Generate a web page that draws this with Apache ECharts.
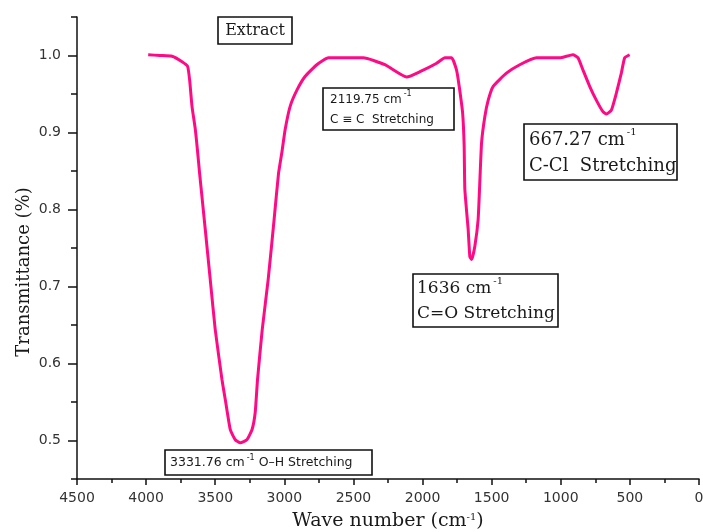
<!DOCTYPE html>
<html>
<head>
<meta charset="utf-8">
<script src="https://cdn.jsdelivr.net/npm/echarts@6/dist/echarts.min.js"></script>
<style>
html,body{margin:0;padding:0;background:#fff;}
#chart{width:703px;height:532px;}
</style>
</head>
<body>
<div id="chart"></div>
<script>
// Wavenumber (cm^-1) and transmittance
const wavenumber = [3985,3900,3812,3740,3700,3685,3668,3644,3627,3613,3572,3536,3500,3451,3427,3391,3355,3319,3271,3234,3211,3194,3160,3117,3074,3042,3018,2994,2958,2909,2849,2765,2681,2524,2428,2272,2115,2019,1898,1838,1790,1754,1735,1710,1699,1694,1670,1658,1645,1622,1598,1585,1573,1549,1525,1489,1393,1297,1176,1008,912,875,839,791,743,695,670,634,598,562,538,502];
const transmittance = [1.001,1.000,0.999,0.992,0.986,0.968,0.934,0.904,0.874,0.847,0.774,0.709,0.644,0.579,0.553,0.514,0.501,0.497,0.501,0.514,0.536,0.579,0.644,0.709,0.787,0.847,0.874,0.904,0.934,0.955,0.973,0.988,0.997,0.997,0.997,0.988,0.972,0.979,0.990,0.997,0.997,0.981,0.960,0.925,0.882,0.826,0.774,0.739,0.735,0.752,0.787,0.839,0.887,0.921,0.942,0.960,0.977,0.988,0.997,0.997,1.001,0.997,0.981,0.960,0.942,0.927,0.924,0.929,0.951,0.977,0.997,1.001];
const yLabelTicks = [0.5,0.6,0.7,0.8,0.9,1.0];
const yMinorTicks = [0.45,0.55,0.65,0.75,0.85,0.95,1.05];
const xMin = 0, xMax = 4500, xStep = 500;
const yMin = 0.45, yMax = 1.05;

const annotations = [
  {text: 'Extract'},
  {text: '2119.75 cm{s|-1}\nC ≡ C  Stretching'},
  {text: '667.27 cm{s|-1}\nC-Cl  Stretching'},
  {text: '1636 cm{s|-1}\nC=O Stretching'},
  {text: '3331.76 cm{s|-1} O–H Stretching'}
];

const data = wavenumber.map((w, i) => [w, transmittance[i]]);
const chart = echarts.init(document.getElementById('chart'), null, {renderer: 'canvas'});

function box(x, y, w, h, txt, tx, ty, size, family, lh, align, sup) {
  return {
    type: 'group',
    children: [
      {type: 'rect', shape: {x: x, y: y, width: w, height: h},
       style: {fill: '#fff', stroke: '#111', lineWidth: 1.6}, z: 10},
      {type: 'text', x: tx, y: ty, z: 11,
       style: {text: txt, fontSize: size, fontFamily: family, fill: '#1a1a1a',
               lineHeight: lh, align: align || 'left', verticalAlign: 'top',
               rich: {s: {fontSize: sup, fontFamily: family, verticalAlign: 'top', lineHeight: lh, padding:[0,0,0,2]}}}}
    ]
  };
}

const serif = '"DejaVu Serif", serif';
const sans = '"DejaVu Sans", sans-serif';

chart.setOption({
  animation: false,
  backgroundColor: '#fff',
  grid: {left: 77, right: 4, top: 17, bottom: 53, containLabel: false, outerBoundsMode: 'none'},
  xAxis: {
    type: 'value', min: xMin, max: xMax, interval: xStep, inverse: true,
    name: 'Wave number (cm{s|-1})', nameLocation: 'middle', nameGap: 33, nameMoveOverlap: false,
    nameTextStyle: {fontSize: 19, fontFamily: serif, color: '#1a1a1a',
      rich: {s: {fontSize: 10, fontFamily: serif, verticalAlign: 'top', color: '#1a1a1a'}}},
    axisLine: {show: true, onZero: false, lineStyle: {color: '#111', width: 1.5}},
    axisTick: {show: true, length: 6, lineStyle: {color: '#111', width: 1.5}},
    minorTick: {show: true, splitNumber: 2, length: 4, lineStyle: {color: '#111', width: 1.5}},
    splitLine: {show: false}, minorSplitLine: {show: false},
    axisLabel: {fontSize: 14, fontFamily: sans, color: '#333', margin: 12,
      formatter: v => String(v)}
  },
  yAxis: [{
    type: 'value', min: yMin, max: yMax, position: 'left',
    name: 'Transmittance (%)', nameLocation: 'middle', nameGap: 44, nameMoveOverlap: false,
    nameTextStyle: {fontSize: 18, fontFamily: serif, color: '#1a1a1a', padding: [0, 48, 0, 0]},
    axisLine: {show: true, onZero: false, lineStyle: {color: '#111', width: 1.5}},
    axisTick: {show: true, customValues: yLabelTicks, length: 9, lineStyle: {color: '#111', width: 1.5}},
    axisLabel: {customValues: yLabelTicks, fontSize: 14, fontFamily: sans, color: '#333', margin: 16,
      formatter: v => v.toFixed(1)},
    splitLine: {show: false}
  }, {
    type: 'value', min: yMin, max: yMax, position: 'left', offset: 0,
    axisLine: {show: false, onZero: false},
    axisTick: {show: true, customValues: yMinorTicks, length: 6, lineStyle: {color: '#111', width: 1.5}},
    axisLabel: {show: false},
    splitLine: {show: false}
  }],
  series: [{
    type: 'line', data: data, yAxisIndex: 0, showSymbol: false, smooth: 0.15,
    lineStyle: {color: '#ff0a84', width: 3}, z: 5
  }],
  graphic: [
    box(218, 17, 74, 27, annotations[0].text, 255, 21, 16, serif, 20, 'center', 9),
    box(323, 88, 131, 42, annotations[1].text, 330, 90, 12, sans, 20, 'left', 8),
    box(524, 124, 153, 56, annotations[2].text, 529, 127, 18, serif, 26, 'left', 10),
    box(413, 274, 145, 53, annotations[3].text, 417, 276, 17, serif, 25, 'left', 10),
    box(165, 450, 207, 25, annotations[4].text, 170, 454, 12.5, sans, 17, 'left', 8)
  ]
});
</script>
</body>
</html>
